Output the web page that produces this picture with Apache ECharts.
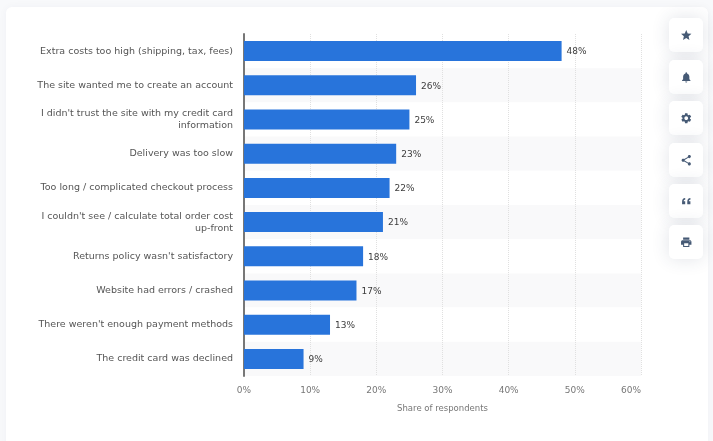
<!DOCTYPE html>
<html>
<head>
<meta charset="utf-8">
<style>
html,body{margin:0;padding:0;background:#f8f9fb;}
#main{width:713px;height:441px;}
</style>
<script src="https://cdn.jsdelivr.net/npm/echarts@6/dist/echarts.min.js"></script>
</head>
<body>
<div id="main"></div>
<script>
var categories = [
    'Extra costs too high (shipping, tax, fees)',
    'The site wanted me to create an account',
    "I didn't trust the site with my credit card\ninformation",
    'Delivery was too slow',
    'Too long / complicated checkout process',
    "I couldn't see / calculate total order cost\nup-front",
    "Returns policy wasn't satisfactory",
    'Website had errors / crashed',
    "There weren't enough payment methods",
    'The credit card was declined'
];
var shares = [48, 26, 25, 23, 22, 21, 18, 17, 13, 9];

// side button icons, 24x24 paths
var icons = [
    'M12 17.27L18.18 21l-1.64-7.03L22 9.24l-7.19-.61L12 2 9.19 8.63 2 9.24l5.46 4.73L5.82 21z',
    'M12 22c1.1 0 2-.9 2-2h-4c0 1.1.9 2 2 2zm6-6v-5c0-3.07-1.63-5.64-4.5-6.32V4c0-.83-.67-1.5-1.5-1.5s-1.5.67-1.5 1.5v.68C7.64 5.36 6 7.92 6 11v5l-2 2v1h16v-1l-2-2z',
    'M19.14 12.94c.04-.3.06-.61.06-.94 0-.32-.02-.64-.07-.94l2.03-1.58c.18-.14.23-.41.12-.61l-1.92-3.32c-.12-.22-.37-.29-.59-.22l-2.39.96c-.5-.38-1.03-.7-1.62-.94l-.36-2.54c-.04-.24-.24-.41-.48-.41h-3.84c-.24 0-.43.17-.47.41l-.36 2.54c-.59.24-1.13.57-1.62.94l-2.39-.96c-.22-.08-.47 0-.59.22L2.74 8.87c-.12.21-.08.47.12.61l2.03 1.58c-.05.3-.09.63-.09.94s.02.64.07.94l-2.03 1.58c-.18.14-.23.41-.12.61l1.92 3.32c.12.22.37.29.59.22l2.39-.96c.5.38 1.03.7 1.62.94l.36 2.54c.05.24.24.41.48.41h3.84c.24 0 .44-.17.47-.41l.36-2.54c.59-.24 1.13-.56 1.62-.94l2.39.96c.22.08.47 0 .59-.22l1.92-3.32c.12-.22.07-.47-.12-.61l-2.01-1.58zM12 15.6c-1.98 0-3.6-1.62-3.6-3.6s1.62-3.6 3.6-3.6 3.6 1.62 3.6 3.6-1.62 3.6-3.6 3.6z',
    'M18 16.08c-.76 0-1.44.3-1.96.77L8.91 12.7c.05-.23.09-.46.09-.7s-.04-.47-.09-.7l7.05-4.11c.54.5 1.25.81 2.04.81 1.66 0 3-1.34 3-3s-1.34-3-3-3-3 1.34-3 3c0 .24.04.47.09.7L8.04 9.81C7.5 9.31 6.79 9 6 9c-1.66 0-3 1.34-3 3s1.34 3 3 3c.79 0 1.5-.31 2.04-.81l7.12 4.16c-.05.21-.08.43-.08.65 0 1.61 1.31 2.92 2.92 2.92s2.92-1.31 2.92-2.92-1.31-2.92-2.92-2.92z',
    'M4 18h6v-6H7c0-2 1-3 3-3V6c-4 0-6 3-6 7zm10 0h6v-6h-3c0-2 1-3 3-3V6c-4 0-6 3-6 7z',
    'M19 8H5c-1.66 0-3 1.34-3 3v6h4v4h12v-4h4v-6c0-1.66-1.34-3-3-3zm-3 11H8v-5h8v5zm3-7c-.55 0-1-.45-1-1s.45-1 1-1 1 .45 1 1-.45 1-1 1zm-1-9H6v4h12V3z'
];
var buttonTops = [18, 60, 101, 143, 184, 225];

var fontName = '"DejaVu Sans", sans-serif';

// white card behind the chart
var graphics = [{
    type: 'rect',
    z: -10,
    shape: {x: 6, y: 7, width: 702, height: 460, r: 6},
    style: {fill: '#fff', shadowBlur: 8, shadowColor: 'rgba(40,60,90,0.04)'}
}];
// buttons on the right
buttonTops.forEach(function (top, i) {
    var shapeName = 'sideIcon' + i;
    echarts.graphic.registerShape(shapeName, echarts.graphic.extendPath(icons[i], {}));
    graphics.push({
        type: 'rect',
        z: -5,
        shape: {x: 669, y: top, width: 34, height: 34, r: 5},
        style: {fill: '#fff', shadowBlur: 18, shadowColor: 'rgba(40,60,90,0.14)'}
    });
    graphics.push({
        type: shapeName,
        x: 680,
        y: top + 11,
        scaleX: 0.52,
        scaleY: 0.52,
        style: {fill: '#465a75'}
    });
});

var mchart = echarts.init(document.getElementById('main'));
var option = {
    backgroundColor: 'transparent',
    animation: false,
    textStyle: {fontFamily: fontName},
    graphic: graphics,
    grid: {left: 244, top: 34, width: 397, height: 342, containLabel: false},
    xAxis: {
        type: 'value',
        min: 0,
        max: 60,
        interval: 10,
        name: 'Share of respondents',
        nameLocation: 'middle',
        nameGap: 28,
        nameTextStyle: {color: '#777', fontSize: 8.5, fontFamily: fontName},
        axisLine: {show: false},
        axisTick: {show: false},
        axisLabel: {
            color: '#777',
            fontSize: 9,
            margin: 10,
            alignMaxLabel: 'right',
            formatter: '{value}%'
        },
        splitLine: {show: true, lineStyle: {color: '#e0e0e0', type: 'dotted', width: 1}}
    },
    yAxis: {
        type: 'category',
        inverse: true,
        data: categories,
        axisLine: {show: true, lineStyle: {color: '#777', width: 2}},
        axisTick: {show: false},
        axisLabel: {color: '#555', fontSize: 9.5, margin: 11, lineHeight: 12, align: 'right'},
        splitArea: {show: true, areaStyle: {color: ['#fff', '#f9f9fa']}}
    },
    series: [{
        type: 'bar',
        data: shares,
        barWidth: 20,
        itemStyle: {color: '#2874db'},
        label: {
            show: true,
            position: 'right',
            distance: 5,
            offset: [0, 1],
            color: '#3c3c3c',
            fontSize: 9,
            formatter: '{c}%'
        }
    }]
};
mchart.setOption(option);
</script>
</body>
</html>
